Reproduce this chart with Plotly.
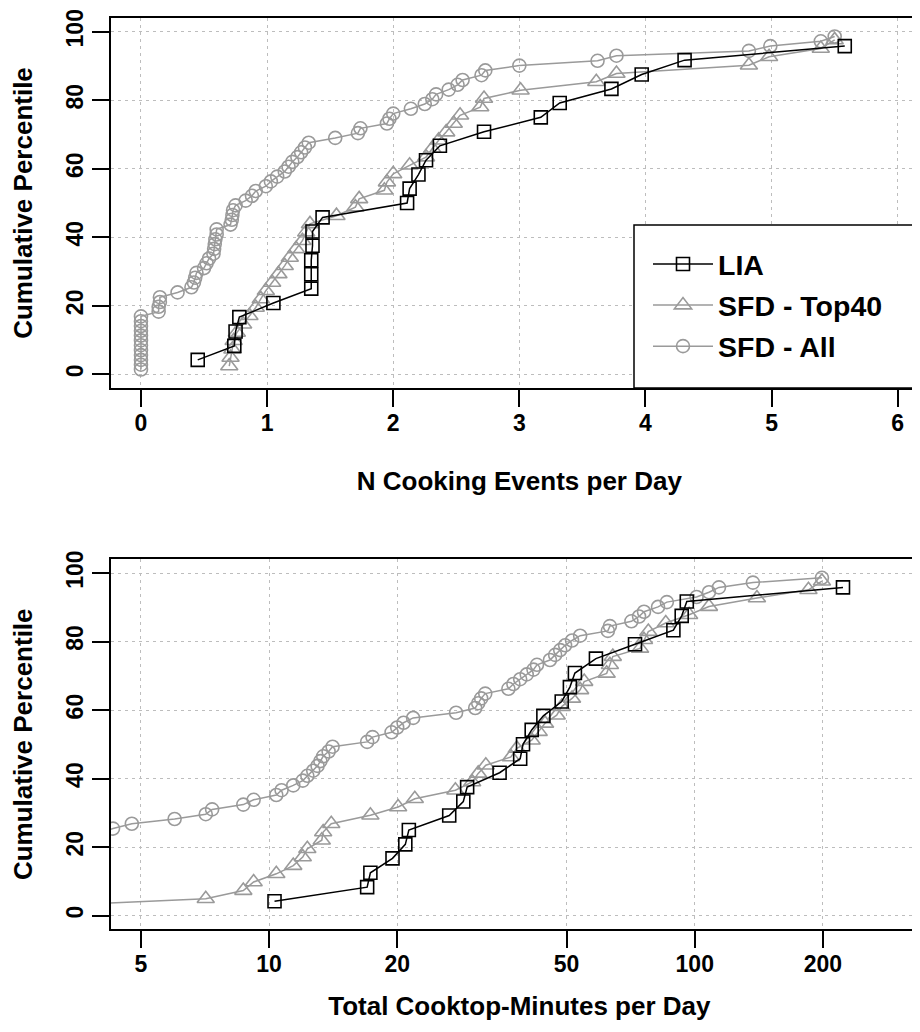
import plotly.graph_objects as go

# ---------------- data ----------------
series_names = ["LIA", "SFD - Top40", "SFD - All"]

# LIA (23 households)
lia_pct = [4.2, 8.3, 12.5, 16.7, 20.8, 25.0, 29.2, 33.3, 37.5, 41.7, 45.8, 50.0,
           54.2, 58.3, 62.5, 66.7, 70.8, 75.0, 79.2, 83.3, 87.5, 91.7, 95.8]
lia_events = [0.45, 0.74, 0.75, 0.78, 1.05, 1.35, 1.35, 1.35, 1.36, 1.36, 1.44, 2.11,
              2.13, 2.20, 2.26, 2.37, 2.72, 3.17, 3.32, 3.73, 3.97, 4.31, 5.58]
lia_minutes = [10.3, 17.0, 17.3, 19.5, 20.9, 21.3, 26.5, 28.6, 29.2, 34.8, 38.9, 39.5,
               41.4, 44.1, 48.7, 50.9, 52.3, 58.6, 72.4, 89.1, 93.2, 95.8, 223]

# SFD - Top40 (40 households)
top40_pct = [2.4, 4.9, 7.3, 9.8, 12.2, 14.6, 17.1, 19.5, 22.0, 24.4, 26.8, 29.3, 31.7, 34.1,
             36.6, 39.0, 41.5, 43.9, 46.3, 48.8, 51.2, 53.7, 56.1, 58.5, 61.0, 63.4, 65.9,
             68.3, 70.7, 73.2, 75.6, 78.0, 80.5, 82.9, 85.4, 87.8, 90.2, 92.7, 95.1, 97.6]
top40_events = [0.70, 0.71, 0.725, 0.735, 0.76, 0.81, 0.86, 0.91, 0.95, 0.99, 1.04, 1.09,
                1.14, 1.18, 1.23, 1.28, 1.31, 1.34, 1.55, 1.70, 1.73, 1.93, 1.95, 2.00,
                2.13, 2.26, 2.31, 2.36, 2.42, 2.48, 2.53, 2.69, 2.72, 3.01, 3.61, 3.77,
                4.82, 4.98, 5.39, 5.50]
top40_minutes = [2.4, 7.1, 8.7, 9.2, 10.4, 11.4, 12.0, 12.3, 13.3, 13.4, 14.0, 17.3, 20.1,
                 22.0, 27.4, 30.0, 31.0, 32.3, 37.0, 38.2, 41.4, 43.0, 44.5, 47.4, 48.7,
                 51.5, 53.8, 55.0, 62.1, 63.2, 64.2, 74.4, 76.0, 77.8, 85.5, 97, 108, 140,
                 185, 199]

# SFD - All (70 households; the first 12 have no cooking, so no log-scale minutes)
all_pct = [1.4, 2.8, 4.2, 5.6, 7.0, 8.5, 9.9, 11.3, 12.7, 14.1, 15.5, 16.9, 18.3, 19.7,
           21.1, 22.5, 23.9, 25.4, 26.8, 28.2, 29.6, 31.0, 32.4, 33.8, 35.2, 36.6, 38.0,
           39.4, 40.8, 42.3, 43.7, 45.1, 46.5, 47.9, 49.3, 50.7, 52.1, 53.5, 54.9, 56.3,
           57.7, 59.2, 60.6, 62.0, 63.4, 64.8, 66.2, 67.6, 69.0, 70.4, 71.8, 73.2, 74.6,
           76.1, 77.5, 78.9, 80.3, 81.7, 83.1, 84.5, 85.9, 87.3, 88.7, 90.1, 91.5, 93.0,
           94.4, 95.8, 97.2, 98.6]
all_events = [0, 0, 0, 0, 0, 0, 0, 0, 0, 0, 0, 0,
              0.14, 0.14, 0.15, 0.15, 0.29, 0.40, 0.42, 0.43, 0.44, 0.50, 0.52, 0.54,
              0.575, 0.58, 0.585, 0.59, 0.60, 0.60, 0.71, 0.72, 0.725, 0.73, 0.75,
              0.83, 0.88, 0.91, 0.99, 1.03, 1.08, 1.14, 1.17, 1.20, 1.24, 1.27, 1.30, 1.33,
              1.54, 1.72, 1.74, 1.95, 1.97, 2.00, 2.14, 2.25, 2.31, 2.34, 2.44, 2.51, 2.55,
              2.70, 2.73, 3.00, 3.62, 3.77, 4.82, 4.99, 5.39, 5.50]
all_minutes = [None, None, None, None, None, None, None, None, None, None, None, None,
               1.3, 2.0, 2.6, 3.2, 3.9, 4.30, 4.76, 6.0, 7.1, 7.35, 8.7, 9.2, 10.4, 10.7,
               11.4, 12.0, 12.3, 12.7, 13.0, 13.2, 13.4, 13.8, 14.1, 17.0, 17.5, 19.4, 20.0,
               20.7, 21.8, 27.5, 30.5, 31.0, 31.5, 32.2, 36.5, 37.5, 38.9, 40.3, 41.8, 42.6,
               45.7, 47.0, 48.3, 49.6, 51.5, 53.8, 62.5, 63.2, 71, 74, 76, 82, 86, 101, 108,
               114, 137, 199]

events_ticks = [0, 1, 2, 3, 4, 5, 6]
minutes_ticks = [5, 10, 20, 50, 100, 200]
pct_ticks = [0, 20, 40, 60, 80, 100]

# ---------------- figure ----------------
W, H = 920, 1032
OFF = 8  # the page body margin shifts the figure by 8px; compensate positions
FONT = "Liberation Sans, Arial, Helvetica, sans-serif"
GRAY = "#9a9a9a"

styles = {
    "LIA": dict(color="black", symbol="square-open", size=13, rank=1),
    "SFD - Top40": dict(color=GRAY, symbol="triangle-up-open", size=15, rank=2),
    "SFD - All": dict(color=GRAY, symbol="circle-open", size=13, rank=3),
}

data_top = {"LIA": (lia_events, lia_pct), "SFD - Top40": (top40_events, top40_pct),
            "SFD - All": (all_events, all_pct)}
data_bot = {"LIA": (lia_minutes, lia_pct), "SFD - Top40": (top40_minutes, top40_pct),
            "SFD - All": (all_minutes, all_pct)}

fig = go.Figure()
for name in reversed(series_names):
    st = styles[name]
    for (xs, ys), xa, ya, show in [(data_top[name], "x", "y", True),
                                   (data_bot[name], "x2", "y2", False)]:
        fig.add_trace(go.Scatter(
            x=xs, y=ys, mode="lines+markers", name=name,
            legendgroup=name, legendrank=st["rank"], showlegend=show,
            line=dict(color=st["color"], width=1.5),
            marker=dict(symbol=st["symbol"], size=st["size"], color=st["color"],
                        line=dict(color=st["color"], width=1.6)),
            xaxis=xa, yaxis=ya, hoverinfo="x+y+name"))

axis_common = dict(
    automargin=False,
    showline=True, linecolor="black", linewidth=2,
    ticks="outside", ticklen=17, tickwidth=2, tickcolor="black",
    showgrid=True, gridcolor="#bdbdbd", gridwidth=1, griddash="3px,4px",
    zeroline=False,
    tickfont=dict(family=FONT, size=23, color="black", weight="bold"),
)
title_font = dict(family=FONT, size=26, color="black", weight="bold")


def py(v):
    return 1 - (v - OFF) / H


x_dom = [(110.7 - OFF) / W, 1.0]
top_dom = [py(388), py(18)]
bot_dom = [py(929.3), py(559.3)]

fig.update_layout(
    width=W, height=H,
    margin=dict(l=0, r=0, t=0, b=0, autoexpand=False),
    paper_bgcolor="white", plot_bgcolor="white",
    font=dict(family=FONT, color="black"),
    xaxis=dict(axis_common, domain=x_dom, range=[-0.24, 6.24], tickvals=events_ticks,
               mirror=True, anchor="y", ticklabelstandoff=-4,
               title=dict(text="N Cooking Events per Day", font=title_font, standoff=37)),
    yaxis=dict(axis_common, domain=top_dom, range=[-4, 104], tickvals=pct_ticks,
               tickangle=-90, anchor="x", ticklabelstandoff=0,
               title=dict(text="Cumulative Percentile", font=title_font, standoff=21)),
    xaxis2=dict(axis_common, domain=x_dom, type="log", range=[0.628, 2.548],
                tickvals=minutes_ticks, ticktext=[str(v) for v in minutes_ticks],
                mirror=True, anchor="y2", ticklabelstandoff=-4,
                title=dict(text="Total Cooktop-Minutes per Day", font=title_font, standoff=21)),
    yaxis2=dict(axis_common, domain=bot_dom, range=[-4, 104], tickvals=pct_ticks,
                tickangle=-90, anchor="x2", ticklabelstandoff=0,
                title=dict(text="Cumulative Percentile", font=title_font, standoff=21)),
    legend=dict(x=(648 - OFF) / W, xanchor="left", y=py(239), yanchor="top",
                bgcolor="rgba(0,0,0,0)", borderwidth=0, tracegroupgap=1, itemwidth=60,
                font=dict(family=FONT, size=28.5, color="black", weight="bold")),
    shapes=[dict(type="rect", xref="paper", yref="paper",
                 x0=(634 - OFF) / W, x1=1.03, y0=py(388), y1=py(225),
                 fillcolor="white", line=dict(color="black", width=1.5), layer="above")],
    showlegend=True,
)

fig.write_html("out.html")
